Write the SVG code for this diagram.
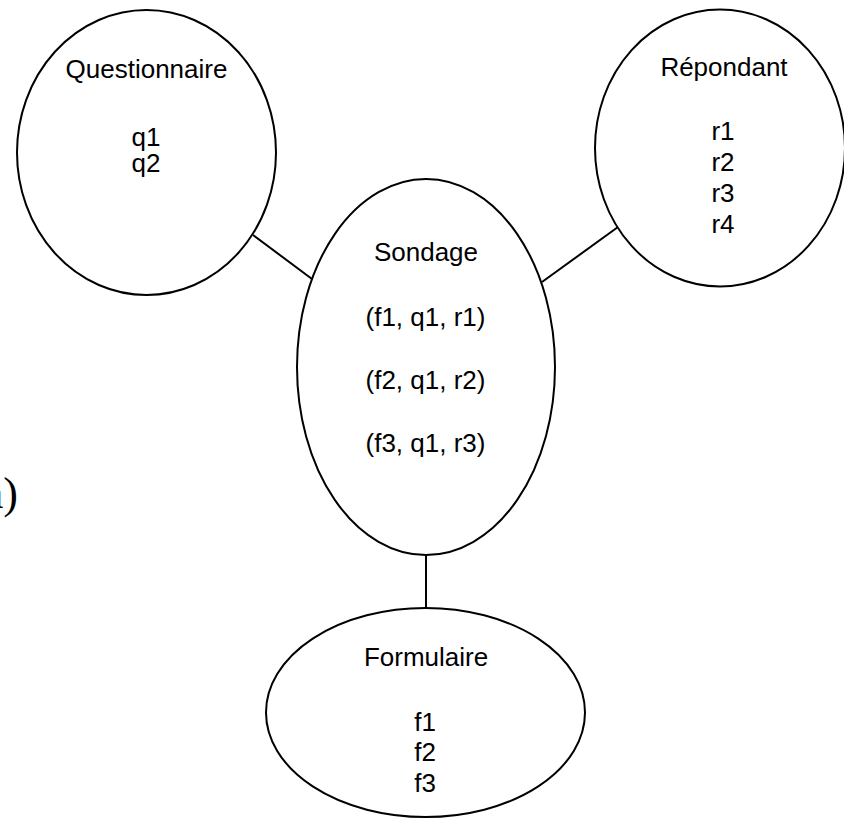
<svg xmlns="http://www.w3.org/2000/svg" width="844" height="819" viewBox="0 0 844 819">
  <style>
    .node ellipse { fill: #ffffff; stroke: #000000; stroke-width: 2; }
    .node text { font-family: "Liberation Sans", Arial, Helvetica, sans-serif; font-size: 26px; fill: #000000; text-anchor: middle; }
    .edges line { stroke: #000000; stroke-width: 2; }
    .mark { font-family: "Liberation Serif", "Times New Roman", serif; font-size: 44px; fill: #000000; }
  </style>
  <rect width="844" height="819" fill="#ffffff"/>

  <!-- connectors -->
  <g id="edges" class="edges">
    <line x1="253" y1="235" x2="312" y2="279"/>
    <line x1="542" y1="282" x2="618" y2="227"/>
    <line x1="426" y1="555" x2="426" y2="608"/>
  </g>

  <!-- entity: Questionnaire -->
  <g id="questionnaire" class="node">
    <ellipse cx="146.5" cy="152.5" rx="129.5" ry="142.5"/>
    <text x="146.5" y="78">Questionnaire</text>
    <text x="146" y="146">q1</text>
    <text x="146" y="172">q2</text>
  </g>

  <!-- entity: Répondant -->
  <g id="repondant" class="node">
    <ellipse cx="720" cy="148" rx="125" ry="138.5"/>
    <text x="724" y="76">Répondant</text>
    <text x="723" y="140">r1</text>
    <text x="723" y="171">r2</text>
    <text x="723" y="202">r3</text>
    <text x="723" y="233">r4</text>
  </g>

  <!-- association: Sondage -->
  <g id="sondage" class="node">
    <ellipse cx="426" cy="367" rx="129" ry="188"/>
    <text x="426" y="261">Sondage</text>
    <text x="425.5" y="326">(f1, q1, r1)</text>
    <text x="425.5" y="389">(f2, q1, r2)</text>
    <text x="425.5" y="452">(f3, q1, r3)</text>
  </g>

  <!-- entity: Formulaire -->
  <g id="formulaire" class="node">
    <ellipse cx="425.5" cy="712.5" rx="159.5" ry="104.5"/>
    <text x="426" y="666">Formulaire</text>
    <text x="425" y="731">f1</text>
    <text x="425" y="761">f2</text>
    <text x="425" y="792">f3</text>
  </g>

  <text class="mark" x="18" y="508" text-anchor="end">a)</text>
</svg>
